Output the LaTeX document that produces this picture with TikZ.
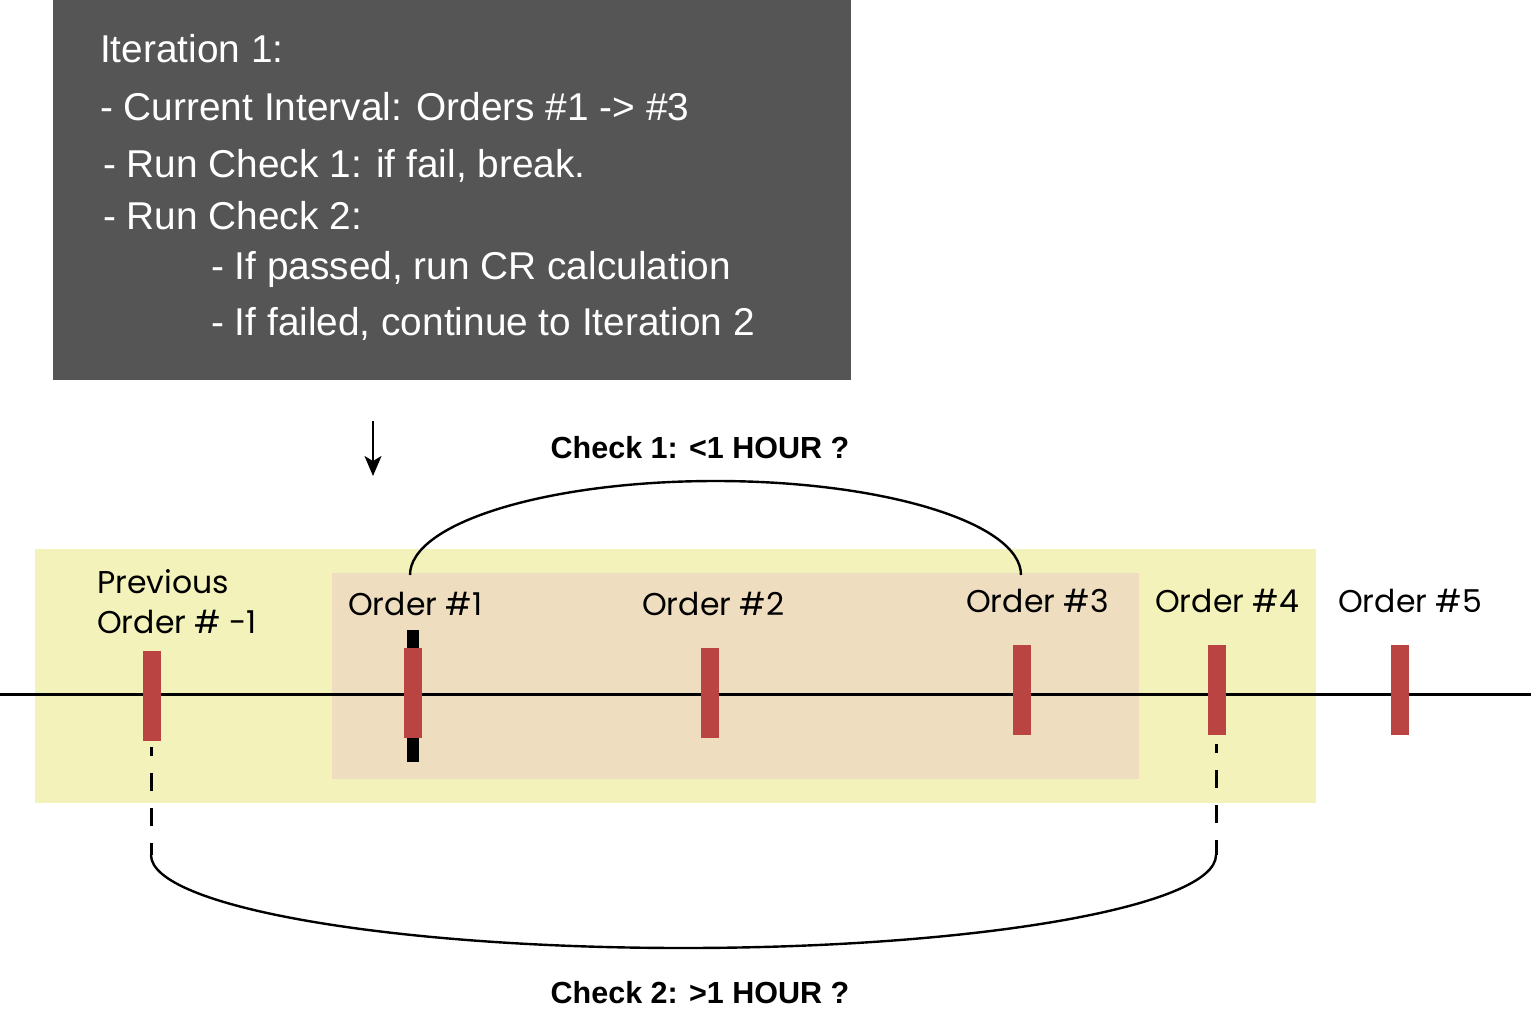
\documentclass[tikz,border=0pt]{standalone}
\usepackage{fontspec}
\setmainfont{Liberation Sans}
\newfontfamily\ordfont{Poppins}
\usetikzlibrary{arrows.meta}
\definecolor{boxgray}{HTML}{555555}
\definecolor{ylw}{HTML}{F3F2BA}
\definecolor{tan}{HTML}{EEDDBF}
\definecolor{barred}{HTML}{B94441}
\tikzset{
  boxtxt/.style={anchor=base west, inner sep=0pt, text=white, font=\fontsize{38.8}{44}\selectfont},
  ordlbl/.style={anchor=base west, inner sep=0pt, font=\ordfont\fontsize{31.5}{40}\selectfont, align=left},
  chklbl/.style={anchor=base, inner sep=0pt, font=\bfseries\fontsize{30.5}{34}\selectfont},
  orderbar/.style={rectangle, inner sep=0pt, minimum width=18pt, minimum height=90pt, fill=barred, draw=none},
  conn/.style={line width=2.4pt, black},
  dashconn/.style={line width=3pt, black, dash pattern=on 18pt off 17pt, dash phase=9pt},
}
\begin{document}
\begin{tikzpicture}[x=1pt, y=-1pt]
\useasboundingbox (0,0) rectangle (1531,1017);
% dark box
\fill[boxgray] (53,0) rectangle (851,380);
\node[boxtxt] (t1) at (100,62) {Iteration 1:};
\node[boxtxt] (t2) at (100,120) {- Current Interval: Orders \#1 -> \#3};
\node[boxtxt] (t3) at (103,177) {- Run Check 1: if fail, break.};
\node[boxtxt] (t4) at (103,229) {- Run Check 2:};
\node[boxtxt] (t5) at (211,279) {- If passed, run CR calculation};
\node[boxtxt] (t6) at (211,335) {- If failed, continue to Iteration 2};
% arrow
\coordinate (arS) at (373,421);
\coordinate (arE) at (373,476);
\draw[line width=1.8pt, -{Stealth[length=20pt, width=17pt, inset=5pt]}] (arS) -- (arE);
% check labels
\node[chklbl] (chk1) at (700,458) {Check 1: <1 HOUR ?};
\node[chklbl] (chk2) at (700,1003) {Check 2: >1 HOUR ?};
% background boxes
\fill[ylw] (35,549) rectangle (1316,803);
\fill[tan] (332,573) rectangle (1139,779);
% timeline
\coordinate (tlL) at (0,694);
\coordinate (tlR) at (1531,694);
\draw[line width=3pt] (tlL) -- (tlR);
% dashed connectors
\coordinate (d1s) at (151,747);
\coordinate (d1e) at (151,855);
\coordinate (d2s) at (1216,744);
\coordinate (d2e) at (1216,855);
\draw[dashconn] (d1s) -- (d1e);
\draw[dashconn] (d2s) -- (d2e);
\coordinate (c2bot) at (683.5,948);
\draw[conn] (d1e) .. controls (151,906.4) and (389.4,948) .. (c2bot)
            .. controls (977.6,948) and (1216,906.4) .. (d2e);
% check 1 arc
\coordinate (c1s) at (410,575);
\coordinate (c1top) at (715.5,481);
\coordinate (c1e) at (1021,575);
\draw[conn] (c1s) .. controls (410,523.1) and (546.8,481) .. (c1top)
            .. controls (884.2,481) and (1021,523.1) .. (c1e);
% black marker behind order 1
\fill[black] (407,630) rectangle (419,762);
% bars
\node[orderbar] (bprev) at (152,696) {};
\node[orderbar] (b1) at (413,693) {};
\node[orderbar] (b2) at (710,693) {};
\node[orderbar] (b3) at (1022,690) {};
\node[orderbar] (b4) at (1217,690) {};
\node[orderbar] (b5) at (1400,690) {};
% labels
\node[ordlbl] (lprev1) at (97,593) {Previous};
\node[ordlbl] (lprev2) at (97,633) {Order \# -1};
\node[ordlbl] (l1) at (348,615) {Order \#1};
\node[ordlbl] (l2) at (642,615) {Order \#2};
\node[ordlbl] (l3) at (966,612) {Order \#3};
\node[ordlbl] (l4) at (1155,612) {Order \#4};
\node[ordlbl] (l5) at (1338,612) {Order \#5};
\end{tikzpicture}
\end{document}
